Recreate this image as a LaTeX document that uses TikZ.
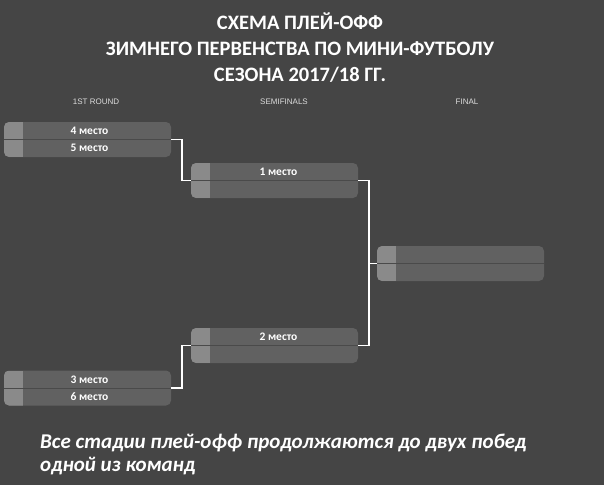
\documentclass[tikz,border=0pt]{standalone}
\usepackage{fontspec}
\setmainfont{Carlito}
\newfontfamily\stagefont{Liberation Sans}
\usetikzlibrary{positioning}
\definecolor{bggray}{RGB}{69,69,69}
\definecolor{boxgray}{RGB}{97,97,97}
\definecolor{stripgray}{RGB}{138,138,138}
\definecolor{slotline}{RGB}{74,74,74}
\definecolor{stagegray}{RGB}{220,220,220}
\tikzset{
  match/.style={rectangle, rounded corners=5pt, minimum width=167pt,
    minimum height=35pt, inner sep=0pt, fill=boxgray,
    path picture={
      \fill[stripgray, sharp corners] (path picture bounding box.north west)
        rectangle ([xshift=19pt]path picture bounding box.south west);
      \draw[slotline, sharp corners, line width=1pt] (path picture bounding box.west)
        -- (path picture bounding box.east);
    }},
  team/.style={text=white, inner sep=0pt, font=\bfseries\fontsize{11.5}{11.5}\selectfont},
  stage/.style={text=stagegray, font=\stagefont\fontsize{8}{8}\selectfont},
  link/.style={draw=white, line width=1.5pt},
}
\begin{document}
\begin{tikzpicture}[x=1pt, y=-1pt]
  \useasboundingbox[fill=bggray] (0,0) rectangle (604,485);

  % title
  \node[text=white, align=center, font=\bfseries\fontsize{20.5}{26}\selectfont] (title) at (300,47.5)
    {СХЕМА ПЛЕЙ-ОФФ\\ЗИМНЕГО ПЕРВЕНСТВА ПО МИНИ-ФУТБОЛУ\\СЕЗОНА 2017/18 ГГ.};

  % stages
  \node[stage] (round1) at (96,102) {1ST ROUND};
  \node[stage] (semis) at (284,102) {SEMIFINALS};
  \node[stage] (final) at (467,102) {FINAL};

  % matches
  \node[match] (r1a) at (87.5,139.5) {};
  \node[match] (r1b) at (87.5,388) {};
  \node[match] (sf1) at (274.5,180.5) {};
  \node[match] (sf2) at (274.5,345.5) {};
  \node[match] (fin) at (460.5,263.5) {};

  \node[team] (t4) at ([xshift=2pt,yshift=8.5pt]r1a.center) {4 место};
  \node[team] (t5) at ([xshift=2pt,yshift=-8.5pt]r1a.center) {5 место};
  \node[team] (t3) at ([xshift=2pt,yshift=8.5pt]r1b.center) {3 место};
  \node[team] (t6) at ([xshift=2pt,yshift=-8.5pt]r1b.center) {6 место};
  \node[team] (t1) at ([xshift=4pt,yshift=8.5pt]sf1.center) {1 место};
  \node[team] (t2) at ([xshift=4pt,yshift=8.5pt]sf2.center) {2 место};

  % links
  \draw[link] (r1a.east) -- ++(11,0) |- (sf1.west);
  \draw[link] (r1b.east) -- ++(11,0) |- (sf2.west);
  \draw[link] (sf1.east) -- ++(11,0) |- (fin.west);
  \draw[link] (sf2.east) -- ++(11,0) |- (fin.west);

  % note
  \node[text=white, align=left, anchor=north west, inner sep=0pt,
    font=\bfseries\itshape\fontsize{21}{23}\selectfont] (note) at (40,434)
    {Все стадии плей-офф продолжаются до двух побед\\одной из команд};
\end{tikzpicture}
\end{document}
